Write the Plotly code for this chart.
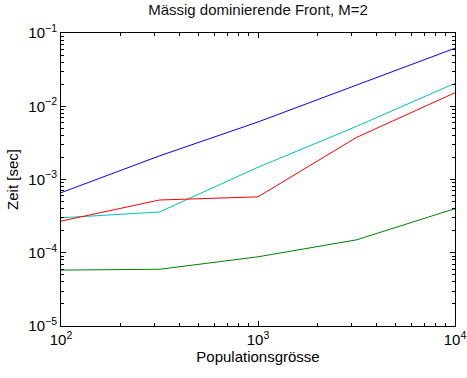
import plotly.graph_objects as go

# Population sizes and measured runtimes (seconds)
populations = [100, 316, 1000, 3162, 10000]
zeit_blau = [6.6e-4, 2.1e-3, 6.1e-3, 1.95e-2, 6.2e-2]
zeit_cyan = [3.0e-4, 3.6e-4, 1.47e-3, 5.3e-3, 2.06e-2]
zeit_rot = [2.7e-4, 5.25e-4, 5.8e-4, 3.75e-3, 1.53e-2]
zeit_gruen = [5.8e-5, 5.95e-5, 8.8e-5, 1.5e-4, 4.0e-4]

series = [
    (zeit_blau, "#0000ff"),
    (zeit_cyan, "#00bfbf"),
    (zeit_rot, "#ff0000"),
    (zeit_gruen, "#008000"),
]

x_ticks = [100, 1000, 10000]
x_ticktext = ["10<sup>2</sup>", "10<sup>3</sup>", "10<sup>4</sup>"]
y_ticks = [1e-5, 1e-4, 1e-3, 1e-2, 1e-1]
y_ticktext = ["10<sup>−5</sup>", "10<sup>−4</sup>", "10<sup>−3</sup>",
              "10<sup>−2</sup>", "10<sup>−1</sup>"]

# minor ticks at 2..9 within each decade
x_minor = [m * d for d in (100, 1000) for m in range(2, 10)]
y_minor = [m * d for d in (1e-5, 1e-4, 1e-3, 1e-2) for m in range(2, 10)]

fig = go.Figure()
for values, color in series:
    fig.add_trace(go.Scatter(x=populations, y=values, mode="lines",
                             line=dict(color=color, width=1), showlegend=False))

axis_common = dict(
    type="log", showgrid=False, zeroline=False, showline=True,
    linecolor="black", linewidth=1, mirror="allticks",
    ticks="inside", ticklen=5, tickcolor="black", automargin=False,
    tickfont=dict(family="Liberation Sans, Arial", size=15, color="black"),
)

fig.update_layout(
    width=467, height=378,
    margin=dict(l=61, r=12, t=33, b=52),
    paper_bgcolor="white", plot_bgcolor="white",
    font=dict(family="Liberation Sans, Arial", color="black"),
    title=dict(text="Mässig dominierende Front, M=2", x=0.5, xref="paper",
               y=1, yref="container", yanchor="top", pad=dict(t=4),
               font=dict(size=15, color="#111")),
    xaxis=dict(axis_common, range=[2, 4], tickvals=x_ticks, ticktext=x_ticktext,
               minor=dict(tickvals=x_minor, ticks="inside", ticklen=3,
                          tickcolor="black", showgrid=False),
               title=dict(text="Populationsgrösse", font=dict(size=15), standoff=4)),
    yaxis=dict(axis_common, range=[-5, -1], tickvals=y_ticks, ticktext=y_ticktext,
               minor=dict(tickvals=y_minor, ticks="inside", ticklen=3,
                          tickcolor="black", showgrid=False),
               title=dict(text="Zeit [sec]", font=dict(size=15), standoff=6)),
)

fig.write_html("out.html")
